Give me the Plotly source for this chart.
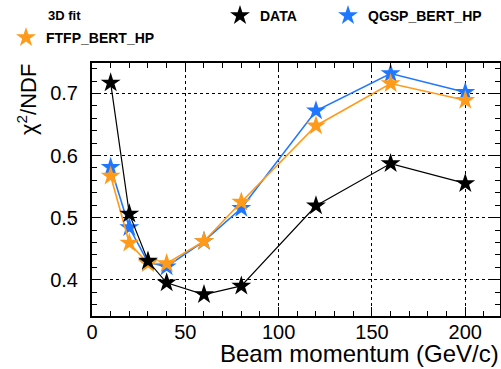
import plotly.graph_objects as go

momentum = [10, 20, 30, 40, 60, 80, 120, 160, 200]
data_chi2 = [0.717, 0.506, 0.430, 0.395, 0.376, 0.390, 0.519, 0.587, 0.555]
qgsp_chi2 = [0.581, 0.484, 0.428, 0.421, 0.462, 0.515, 0.672, 0.732, 0.702]
ftfp_chi2 = [0.567, 0.459, 0.426, 0.426, 0.462, 0.525, 0.648, 0.716, 0.689]

W, H = 501, 369
L, R, T, B = 92, 1, 63, 53
pw, ph = W - L - R, H - T - B

def px(xp):
    return (xp - L) / pw

def py(yp):
    return (H - B - yp) / ph

FONT = "Liberation Sans, Arial, sans-serif"

fig = go.Figure()

series = [
    ("QGSP_BERT_HP", qgsp_chi2, "#1f77ff", 1.6, "legend3"),
    ("FTFP_BERT_HP", ftfp_chi2, "#ff9a1a", 1.6, "legend"),
    ("DATA", data_chi2, "#000000", 1.2, "legend2"),
]
for name, ys, color, lw, _ in series:
    fig.add_trace(go.Scatter(
        x=momentum, y=ys, mode="lines+markers", name=name, showlegend=False,
        line=dict(color=color, width=lw),
        marker=dict(symbol="star", size=15, color=color, line=dict(width=0)),
    ))
# legend-only entries (marker only)
for name, ys, color, lw, leg in series:
    fig.add_trace(go.Scatter(
        x=[None], y=[None], mode="markers", name=name, legend=leg,
        marker=dict(symbol="star", size=15, color=color, line=dict(width=0)),
    ))

axis_common = dict(
    showline=True, linecolor="black", linewidth=2, mirror="allticks",
    ticks="inside", tickcolor="black", tickwidth=1, ticklen=9,
    showgrid=True, gridcolor="black", griddash="dot", gridwidth=1,
    zeroline=False, automargin=False,
    tickfont=dict(family=FONT, size=20, color="black"),
)

fig.update_xaxes(range=[0, 218.6], dtick=50, tick0=0,
                 minor=dict(dtick=10, ticks="inside", ticklen=5, tickcolor="black", showgrid=False),
                 ticklabelstandoff=-3, **axis_common)
fig.update_yaxes(range=[0.3415, 0.749], dtick=0.1, tick0=0, tickformat=".1f",
                 minor=dict(dtick=0.02, ticks="inside", ticklen=5, tickcolor="black", showgrid=False),
                 ticklabelstandoff=8, **axis_common)

leg_common = dict(
    font=dict(family=FONT, size=14, color="black", weight="bold"),
    bgcolor="rgba(0,0,0,0)", borderwidth=0, yanchor="middle", xanchor="left",
    itemclick=False, itemdoubleclick=False,
)

fig.update_layout(
    width=W, height=H,
    margin=dict(l=L, r=R, t=T, b=B, autoexpand=False),
    plot_bgcolor="white", paper_bgcolor="white",
    legend=dict(x=px(6), y=py(38), **leg_common),
    legend2=dict(x=px(220), y=py(16), **leg_common),
    legend3=dict(x=px(328), y=py(16), **leg_common),
    annotations=[
        dict(text="<b>3D fit</b>", x=px(46), y=py(16), xref="paper", yref="paper",
             xanchor="left", yanchor="middle", showarrow=False,
             font=dict(family=FONT, size=13, color="black")),
        dict(text="Beam momentum (GeV/c)", x=1.002, y=py(369), xref="paper", yref="paper",
             xanchor="right", yanchor="bottom", showarrow=False,
             font=dict(family=FONT, size=24, color="black")),
        dict(text="χ<sup>2</sup>/NDF", x=px(27), y=py(100), xref="paper", yref="paper",
             xanchor="center", yanchor="middle", showarrow=False, textangle=-90,
             font=dict(family=FONT, size=22, color="black")),
    ],
)

fig.write_html("out.html", config={"displayModeBar": False},
               post_script="document.body.style.margin='0';")
